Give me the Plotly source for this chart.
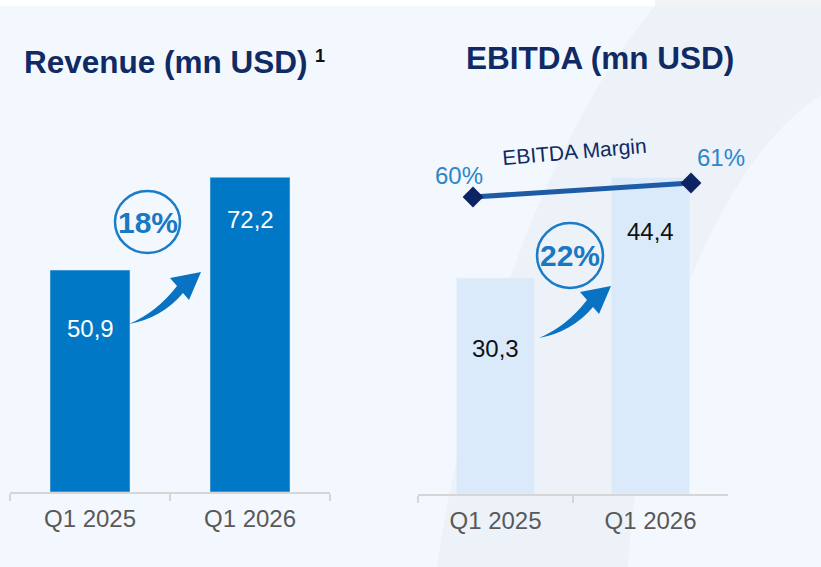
import plotly.graph_objects as go

W, H = 821, 567

# ---- data ----
categories = ["Q1 2025", "Q1 2026"]
revenue = [50.9, 72.2]
ebitda = [30.3, 44.4]
ebitda_margin = [60, 61]
revenue_growth = "18%"
ebitda_growth = "22%"

def fmt(v):
    return f"{v:.1f}".replace(".", ",")

def px(x):
    return x / W

def py(y):
    return 1 - y / H

FONT = "Liberation Sans, Arial, sans-serif"
NAVY = "#0F2A64"
BLUE = "#0078C6"
PCT = "#1A77C2"

fig = go.Figure()

fig.add_trace(go.Bar(x=categories, y=revenue, marker_color=BLUE, xaxis="x", yaxis="y",
                     hoverinfo="skip", showlegend=False))
fig.add_trace(go.Bar(x=categories, y=ebitda, marker_color="#DAEAFA", xaxis="x2", yaxis="y2",
                     hoverinfo="skip", showlegend=False))
fig.add_trace(go.Scatter(x=categories, y=ebitda_margin, mode="lines+markers", xaxis="x3", yaxis="y3",
                         line=dict(color="#1D5BA6", width=5),
                         marker=dict(symbol="diamond", size=16, color="#0C2461"),
                         cliponaxis=False, hoverinfo="skip", showlegend=False))

axis_common = dict(type="category", range=[-0.5, 1.5], showline=True, linecolor="#D6D6D6", linewidth=2,
                   ticks="outside", tickson="boundaries", ticklen=7, tickcolor="#D6D6D6", tickwidth=2,
                   ticklabelstandoff=4,
                   showgrid=False, zeroline=False, fixedrange=True,
                   tickfont=dict(family=FONT, size=24, color="#595959"))

fig.update_layout(
    width=W, height=H,
    margin=dict(l=0, r=0, t=0, b=0),
    paper_bgcolor="#F3F8FE", plot_bgcolor="rgba(0,0,0,0)",
    bargap=0.5,
    xaxis=dict(domain=[px(10), px(330)], anchor="y", **axis_common),
    yaxis=dict(domain=[py(492), py(100)], range=[0, 392 / 4.36], visible=False, fixedrange=True),
    xaxis2=dict(domain=[px(418), px(728)], anchor="y2", **axis_common),
    yaxis2=dict(domain=[py(494), py(100)], range=[0, 394 / 7.12], visible=False, fixedrange=True),
    xaxis3=dict(domain=[px(473), px(691)], anchor="y3", type="category", range=[0, 1], visible=False, fixedrange=True),
    yaxis3=dict(domain=[py(267), py(127)], range=[55, 65], visible=False, fixedrange=True),
)

shapes = []
# background arc band
band = (f"M {px(655)},{py(6)} L {px(821)},{py(6)} L {px(821)},{py(95)} "
        f"C {px(720)},{py(160)} {px(640)},{py(360)} {px(628)},{py(567)} "
        f"L {px(437)},{py(567)} "
        f"C {px(460)},{py(400)} {px(540)},{py(140)} {px(655)},{py(6)} Z")
shapes.append(dict(type="path", path=band, xref="paper", yref="paper", fillcolor="#EDF2F9",
                   line=dict(width=0), layer="below"))
# top strip
shapes.append(dict(type="rect", xref="paper", yref="paper", x0=0, x1=px(655), y0=py(6), y1=1,
                   fillcolor="#FFFFFF", line=dict(width=0), layer="below"))
shapes.append(dict(type="rect", xref="paper", yref="paper", x0=px(655), x1=1, y0=py(6), y1=1,
                   fillcolor="#F3F3F3", line=dict(width=0), layer="below"))

def arrow(dx, dy):
    pts = dict(T=(129, 324), NU=(177, 286), BU=(170, 278), TIP=(201, 272), BL=(189, 300), NL=(183, 293))
    P = {k: (px(v[0] + dx), py(v[1] + dy)) for k, v in pts.items()}
    c1 = (px(157 + dx), py(312 + dy))
    c2 = (px(162 + dx), py(318 + dy))
    return (f"M {P['T'][0]},{P['T'][1]} Q {c1[0]},{c1[1]} {P['NU'][0]},{P['NU'][1]} "
            f"L {P['BU'][0]},{P['BU'][1]} L {P['TIP'][0]},{P['TIP'][1]} L {P['BL'][0]},{P['BL'][1]} "
            f"L {P['NL'][0]},{P['NL'][1]} Q {c2[0]},{c2[1]} {P['T'][0]},{P['T'][1]} Z")

for dx, dy in [(0, 0), (410, 14)]:
    shapes.append(dict(type="path", path=arrow(dx, dy), xref="paper", yref="paper",
                       fillcolor="#0A72C2", line=dict(width=0)))

for cx, cy, rx, ry in [(147.5, 222, 32.5, 31), (570, 255.5, 33, 32.5)]:
    shapes.append(dict(type="circle", xref="paper", yref="paper",
                       x0=px(cx - rx), x1=px(cx + rx), y0=py(cy + ry), y1=py(cy - ry),
                       line=dict(color="#1A7BC7", width=2.5), fillcolor="rgba(0,0,0,0)"))

fig.update_layout(shapes=shapes)

ann = []
ann.append(dict(text="<b>Revenue (mn USD)</b>", x=px(22), y=py(62), xref="paper", yref="paper",
                xanchor="left", yanchor="middle", showarrow=False,
                font=dict(family=FONT, size=31.5, color=NAVY)))
ann.append(dict(text="<b>1</b>", x=px(320), y=py(56), xref="paper", yref="paper",
                xanchor="center", yanchor="middle", showarrow=False,
                font=dict(family=FONT, size=18, color="#111111")))
ann.append(dict(text="<b>EBITDA (mn USD)</b>", x=px(600), y=py(58), xref="paper", yref="paper",
                xanchor="center", yanchor="middle", showarrow=False,
                font=dict(family=FONT, size=31.5, color=NAVY)))

# bar value labels
for c, v, ys in zip(categories, revenue, [-58, -42]):
    ann.append(dict(text=fmt(v), x=c, y=v, xref="x", yref="y", yshift=ys, showarrow=False,
                    xanchor="center", font=dict(family=FONT, size=24, color="#FFFFFF")))
for c, v, ys in zip(categories, ebitda, [-70, -54]):
    ann.append(dict(text=fmt(v), x=c, y=v, xref="x2", yref="y2", yshift=ys, showarrow=False,
                    xanchor="center", font=dict(family=FONT, size=24, color="#111111")))

# margin labels
for c, v, xs, ys in zip(categories, ebitda_margin, [-14, 30], [22, 26]):
    ann.append(dict(text=f"{v}%", x=c, y=v, xref="x3", yref="y3", xshift=xs, yshift=ys, showarrow=False,
                    xanchor="center", font=dict(family=FONT, size=24, color="#2B86CC")))
ann.append(dict(text="EBITDA Margin", x=px(574), y=py(151), xref="paper", yref="paper", textangle=-5,
                xanchor="center", yanchor="middle",
                showarrow=False, font=dict(family=FONT, size=21, color=NAVY)))

# growth labels
ann.append(dict(text=f"<b>{revenue_growth}</b>", x=px(147.5), y=py(222), xref="paper", yref="paper",
                xanchor="center", yanchor="middle",
                showarrow=False, font=dict(family=FONT, size=30, color=PCT)))
ann.append(dict(text=f"<b>{ebitda_growth}</b>", x=px(570), y=py(255.5), xref="paper", yref="paper",
                xanchor="center", yanchor="middle",
                showarrow=False, font=dict(family=FONT, size=30, color=PCT)))

fig.update_layout(annotations=ann)

fig.write_html("out.html", config={"displayModeBar": False},
               post_script="document.body.style.margin='0px';document.body.style.padding='0px';")
